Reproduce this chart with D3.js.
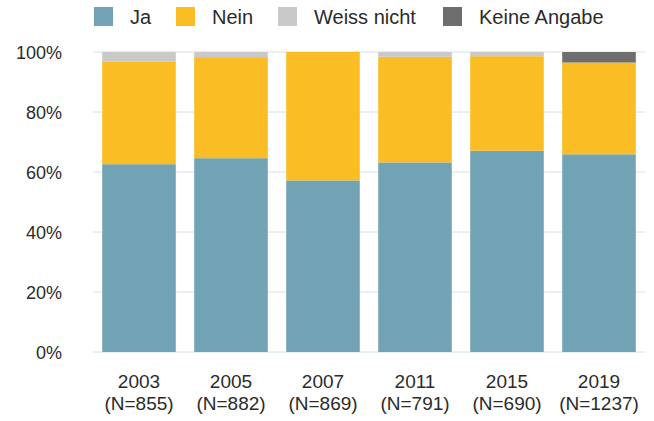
<!DOCTYPE html>
<html>
<head>
<meta charset="utf-8">
<script src="https://cdn.jsdelivr.net/npm/d3@7"></script>
<style>
  body { margin: 0; background: #fff; }
  text { font-family: "Liberation Sans", Arial, sans-serif; fill: #2b2b2b; }
</style>
</head>
<body>
<div id="container"></div>
<script>
/* DATA */
const years = ["2003", "2005", "2007", "2011", "2015", "2019"];
const sampleSizes = ["N=855", "N=882", "N=869", "N=791", "N=690", "N=1237"];
const seriesNames = ["Ja", "Nein", "Weiss nicht", "Keine Angabe"];
const ja = [62.6, 64.6, 57.2, 63.2, 67.1, 65.9];
const nein = [34.3, 33.7, 42.8, 35.2, 31.5, 30.6];
const weissNicht = [3.1, 1.7, 0, 1.6, 1.4, 0];
const keineAngabe = [0, 0, 0, 0, 0, 3.5];
const yTicks = [0, 20, 40, 60, 80, 100];

const colors = ["#72a3b4", "#fbbd24", "#c9c9c9", "#6e6e6e"];

/* LAYOUT */
const W = 654, H = 421;
const margin = { top: 52, right: 9, bottom: 69, left: 93 };
const width = W - margin.left - margin.right;
const height = H - margin.top - margin.bottom;

const svg = d3.select('#container')
  .append('svg')
  .attr("width", W)
  .attr("height", H);

const chart = svg.append('g')
  .attr("transform", `translate(${margin.left}, ${margin.top})`);

// build table for stack
const table = years.map((y, i) => ({
  year: y,
  "Ja": ja[i],
  "Nein": nein[i],
  "Weiss nicht": weissNicht[i],
  "Keine Angabe": keineAngabe[i]
}));

const stacked = d3.stack().keys(seriesNames)(table);

const xScale = d3.scaleBand()
  .domain(years)
  .range([0, width])
  .paddingInner(0.2)
  .paddingOuter(0.1);

const yScale = d3.scaleLinear()
  .domain([0, 100])
  .range([height, 0]);

// gridlines
chart.append("g")
  .selectAll("line")
  .data(yTicks)
  .join("line")
  .attr("x1", 0)
  .attr("x2", width)
  .attr("y1", d => yScale(d))
  .attr("y2", d => yScale(d))
  .attr("stroke", "#d4e2e7")
  .attr("stroke-width", 1);

// bars
chart.append("g")
  .selectAll("g")
  .data(stacked)
  .join("g")
  .attr("fill", (d, i) => colors[i])
  .selectAll("rect")
  .data(d => d)
  .join("rect")
  .attr("x", d => xScale(d.data.year))
  .attr("y", d => yScale(d[1]))
  .attr("width", xScale.bandwidth())
  .attr("height", d => yScale(d[0]) - yScale(d[1]));

// Y axis labels
const yAxis = chart.append("g")
  .attr("transform", "translate(-31,0)")
  .call(d3.axisLeft(yScale).tickValues(yTicks).tickFormat(d => d + "%").tickSize(0).tickPadding(0));
yAxis.select(".domain").remove();
yAxis.selectAll("text")
  .attr("font-size", 18)
  .attr("dy", "0.35em")
  .style("font-family", "Liberation Sans, Arial, sans-serif")
  .attr("fill", "#2b2b2b");

// X axis labels (two lines)
const xAxis = chart.append("g")
  .attr("transform", `translate(0,${height})`)
  .call(d3.axisBottom(xScale).tickSize(0).tickFormat(""));
xAxis.select(".domain").remove();
xAxis.selectAll(".tick").each(function (d, i) {
  const t = d3.select(this).append("text")
    .attr("text-anchor", "middle")
    .attr("font-size", 19)
    .style("font-family", "Liberation Sans, Arial, sans-serif")
    .attr("fill", "#2b2b2b");
  t.append("tspan").attr("x", 0).attr("y", 36).text(d);
  t.append("tspan").attr("x", 0).attr("y", 58).text("(" + sampleSizes[i] + ")");
});

// Legend
const legendX = [94, 176, 278, 443];
const legend = svg.append("g");
seriesNames.forEach((name, i) => {
  legend.append("rect")
    .attr("x", legendX[i])
    .attr("y", 7)
    .attr("width", 19)
    .attr("height", 19)
    .attr("fill", colors[i]);
  legend.append("text")
    .attr("x", legendX[i] + 36)
    .attr("y", 24)
    .attr("font-size", 20)
    .text(name);
});
</script>
</body>
</html>
